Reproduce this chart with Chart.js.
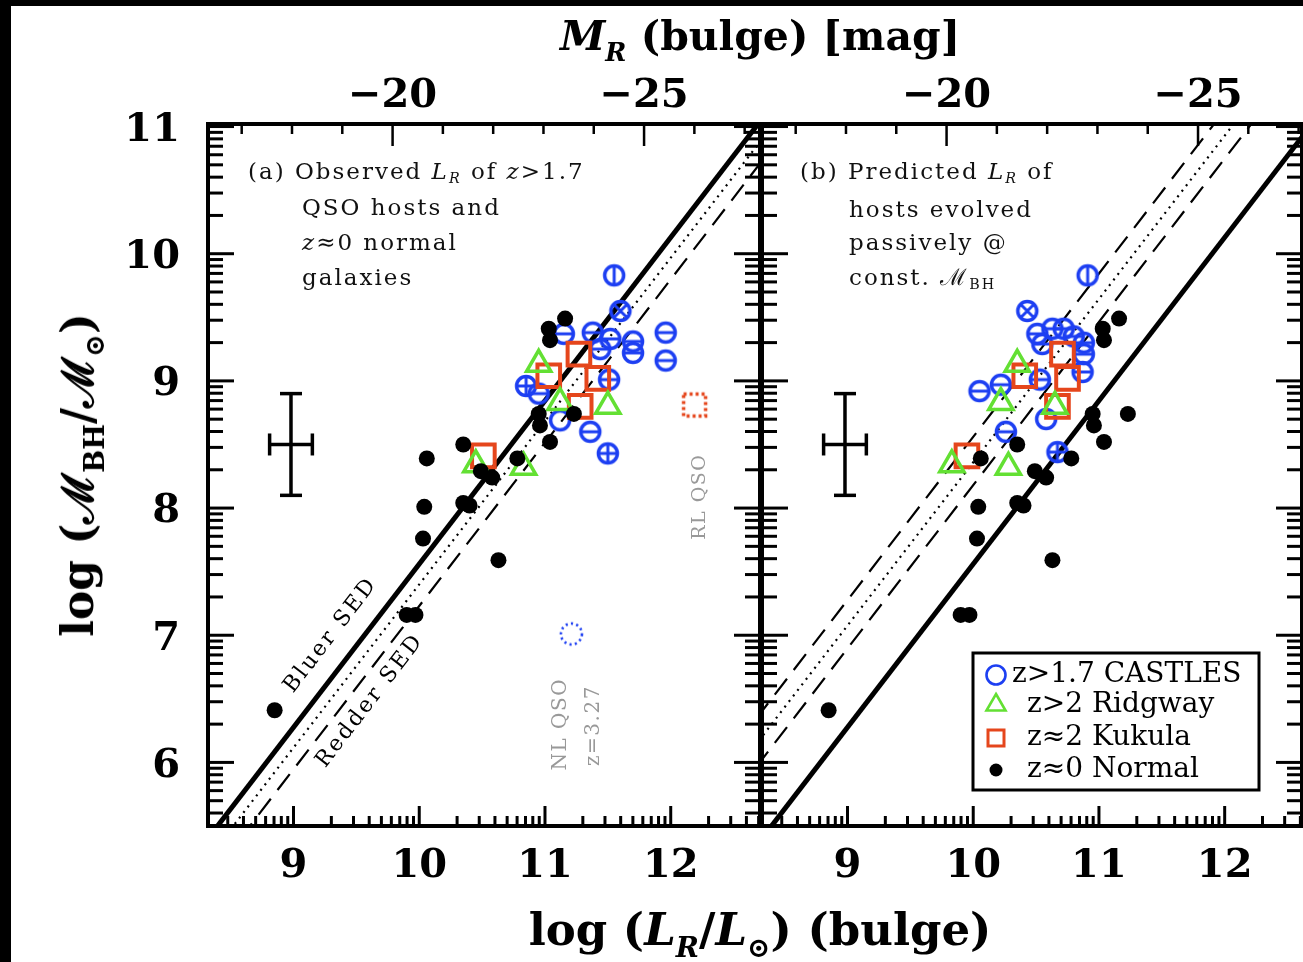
<!DOCTYPE html>
<html>
<head>
<meta charset="utf-8">
<title>Black hole mass vs bulge luminosity</title>
<script src="https://cdn.jsdelivr.net/npm/chart.js@4.4.1/dist/chart.umd.min.js"></script>
<style>
  html, body { margin: 0; padding: 0; width: 1303px; height: 962px; overflow: hidden; background: #000; }
  #sheet { position: absolute; left: 11px; top: 6px; width: 1292px; height: 956px; background: #fff; }
  canvas { position: absolute; top: 0; }
  #panelA { left: 0; }
  #panelB { left: 742px; }
  .txt { position: absolute; font-family: "DejaVu Serif", serif; white-space: nowrap; color: #000; line-height: 1; }
  .title { font-size: 41px; font-weight: bold; transform: translate(-50%, -50%); }
  .note { font-size: 23px; line-height: 23px; letter-spacing: 2px; color: #111; }
  .sb { font-size: 0.62em; position: relative; top: 0.42em; }
  .note .sb { top: 0.3em; }
</style>
</head>
<body>
<div id="sheet"></div>
<canvas id="panelA" width="780" height="962"></canvas>
<canvas id="panelB" width="580" height="962"></canvas>

<div class="txt title" style="left:760px;top:36px"><i>M</i><span class="sb"><i>R</i></span> (bulge) [mag]</div>
<div class="txt title" style="left:760px;top:929px;font-size:45px">log (<i>L</i><span class="sb"><i>R</i></span>/<i>L</i><span class="sb">&#8857;</span>) (bulge)</div>
<div class="txt title" style="left:78px;top:475px;font-size:44px;transform:translate(-50%,-50%) rotate(-90deg)">log (&#8499;<span class="sb">BH</span>/&#8499;<span class="sb">&#8857;</span>)</div>

<div class="txt note" style="left:248px;top:160px">(a) Observed <i>L</i><span class="sb"><i>R</i></span> of <i>z</i>&gt;1.7</div>
<div class="txt note" style="left:302px;top:196px">QSO hosts and</div>
<div class="txt note" style="left:302px;top:231px"><i>z</i>&#8776;0 normal</div>
<div class="txt note" style="left:302px;top:266px">galaxies</div>

<div class="txt note" style="left:800px;top:160px">(b) Predicted <i>L</i><span class="sb"><i>R</i></span> of</div>
<div class="txt note" style="left:849px;top:198px">hosts evolved</div>
<div class="txt note" style="left:849px;top:231px">passively @</div>
<div class="txt note" style="left:849px;top:266px">const. &#8499;<span class="sb">BH</span></div>

<script>
// axis ranges (log L_R and log M_BH), plus solar R magnitude for the top axis
const xMin = 8.32, xMaxA = 12.71, xMaxB = 12.615, yMin = 5.5, yMax = 11.02;
const sunMagR = 4.47;

// local relation and the shifted copies drawn in each panel
const relSlope = 1.284, relZero = -5.28;
const shiftA = [0, -0.16, -0.33];
const styleA = ['solid', 'dotted', 'dashed'];
const shiftB = [0, 1.0, 0.8, 0.62];
const styleB = ['solid', 'dashed', 'dotted', 'dashed'];

// z~0 normal galaxies (same in both panels)
const normX = [8.85, 9.90, 9.97, 10.03, 10.04, 10.06, 10.35, 10.35, 10.40, 10.49, 10.58, 10.63, 10.78, 10.95, 10.96, 11.04, 11.23, 11.03, 11.04, 11.16];
const normY = [6.41, 7.16, 7.16, 7.76, 8.01, 8.39, 8.50, 8.04, 8.02, 8.29, 8.24, 7.59, 8.39, 8.74, 8.65, 8.52, 8.74, 9.41, 9.32, 9.49];

// CASTLES hosts: observed (a) and passively evolved (b); kind = inner mark
const castAx = [11.55, 11.60, 11.15, 11.38, 11.52, 11.70, 11.70, 11.96, 11.96, 11.44, 10.85, 10.95, 11.51, 11.12, 11.36, 11.50];
const castAy = [9.83, 9.55, 9.37, 9.38, 9.33, 9.31, 9.22, 9.38, 9.16, 9.25, 8.96, 8.90, 9.01, 8.69, 8.60, 8.43];
const castAkind = ['v', 'x', 'h', 'h', 'h', 'h', 'h', 'h', 'h', 'h', 'p', 'h', 'h', 'o', 'h', 'p'];
const castBx = [10.91, 10.43, 10.51, 10.63, 10.72, 10.80, 10.88, 10.88, 10.55, 10.87, 10.05, 10.22, 10.53, 10.58, 10.26, 10.67];
const castBy = [9.83, 9.55, 9.37, 9.41, 9.41, 9.35, 9.30, 9.21, 9.29, 9.07, 8.92, 8.97, 9.01, 8.70, 8.60, 8.44];
const castBkind = ['v', 'x', 'h', 'h', 'h', 'h', 'h', 'h', 'h', 'h', 'h', 'h', 'h', 'o', 'h', 'p'];

// Ridgway z>2 hosts
const ridgAx = [10.95, 11.12, 11.50, 10.45, 10.83];
const ridgBx = [10.35, 10.22, 10.65, 9.83, 10.28];
const ridgY = [9.13, 8.83, 8.80, 8.34, 8.32];

// Kukula z~2 hosts
const kukAx = [11.27, 11.03, 11.42, 11.28, 10.51];
const kukBx = [10.71, 10.41, 10.75, 10.67, 9.95];
const kukY = [9.21, 9.04, 9.02, 8.80, 8.41];

// single objects shown in panel (a) only
const nlQsoX = [11.21], nlQsoY = [7.01];
const rlQsoX = [12.19], rlQsoY = [8.81];

// typical error bar
const errX = [8.98], errY = [8.50], errDx = 0.17, errDy = 0.40;

const BLUE = '#1d3ff2', GREEN = '#63e033', RED = '#e5461c';
const tickFont = { family: 'DejaVu Serif', size: 40, weight: 'bold' };

const pts = (xs, ys) => xs.map((x, i) => ({ x, y: ys[i] }));

function ringMark(kind, r, lw, color, dash) {
  const s = Math.ceil(2 * r + lw + 3);
  const c = document.createElement('canvas');
  c.width = c.height = s;
  const g = c.getContext('2d');
  const m = s / 2;
  g.strokeStyle = color;
  g.lineWidth = lw;
  if (dash) g.setLineDash(dash);
  g.beginPath(); g.arc(m, m, r, 0, 2 * Math.PI); g.stroke();
  g.setLineDash([]);
  g.lineWidth = lw * 0.85;
  const bar = (x1, y1, x2, y2) => { g.beginPath(); g.moveTo(x1, y1); g.lineTo(x2, y2); g.stroke(); };
  const d = r * 0.7071;
  if (kind === 'h' || kind === 'p') bar(m - r, m, m + r, m);
  if (kind === 'v' || kind === 'p') bar(m, m - r, m, m + r);
  if (kind === 'x') { bar(m - d, m - d, m + d, m + d); bar(m - d, m + d, m + d, m - d); }
  return c;
}

function dottedBox(half, lw, color) {
  const s = Math.ceil(2 * half + lw + 3);
  const c = document.createElement('canvas');
  c.width = c.height = s;
  const g = c.getContext('2d');
  g.strokeStyle = color;
  g.lineWidth = lw;
  g.setLineDash([3, 3]);
  g.strokeRect(s / 2 - half, s / 2 - half, 2 * half, 2 * half);
  return c;
}

const ringCache = {};
const ring = k => ringCache[k] || (ringCache[k] = ringMark(k, 9.5, 3.5, BLUE));

function relLine(shift, style) {
  const xs = [xMin - 0.5, xMaxA + 0.5];
  return {
    type: 'line',
    data: xs.map(x => ({ x, y: relSlope * x + relZero + shift })),
    borderColor: '#000',
    borderWidth: style === 'solid' ? 5 : 2.2,
    borderDash: style === 'dotted' ? [2, 5] : style === 'dashed' ? [20, 11] : [],
    pointRadius: 0,
    fill: false,
    clip: 0,
    order: 10
  };
}

function logTicks(lo, hi) {
  const out = [];
  for (let n = Math.floor(lo); n <= Math.ceil(hi); n++) {
    for (let k = 1; k <= 9; k++) {
      const v = n + Math.log10(k);
      if (v > lo && v < hi) out.push({ v, major: k === 1 });
    }
  }
  return out;
}

const decoPlugin = {
  id: 'deco',
  afterDatasetsDraw(chart) {
    const { ctx, chartArea: a, scales } = chart;
    const xs = scales.x, ys = scales.y, ms = scales.x2;
    ctx.save();
    ctx.strokeStyle = '#000';
    ctx.lineCap = 'butt';
    const seg = (x1, y1, x2, y2, w) => { ctx.lineWidth = w; ctx.beginPath(); ctx.moveTo(x1, y1); ctx.lineTo(x2, y2); ctx.stroke(); };
    logTicks(xs.min, xs.max).forEach(t => {
      const p = xs.getPixelForValue(t.v);
      seg(p, a.bottom, p, a.bottom - (t.major ? 20 : 10), 3);
    });
    logTicks(ys.min, ys.max).forEach(t => {
      const p = ys.getPixelForValue(t.v);
      const L = t.major ? 26 : 15;
      seg(a.left, p, a.left + L, p, 3);
      seg(a.right, p, a.right - L, p, 3);
    });
    for (let m = Math.ceil(ms.min); m <= Math.floor(ms.max); m++) {
      const p = ms.getPixelForValue(m);
      seg(p, a.top, p, a.top + (m % 5 === 0 ? 22 : 10), 2.5);
    }
    ctx.lineWidth = 4;
    ctx.strokeRect(a.left, a.top, a.right - a.left, a.bottom - a.top);
    ctx.restore();
  },
  afterDraw(chart, args, opts) {
    const { ctx, chartArea: a, scales } = chart;
    const xs = scales.x, ys = scales.y;
    ctx.save();
    ctx.strokeStyle = '#000';
    const seg = (x1, y1, x2, y2, w) => { ctx.lineWidth = w; ctx.beginPath(); ctx.moveTo(x1, y1); ctx.lineTo(x2, y2); ctx.stroke(); };

    // error bar
    const cx = xs.getPixelForValue(errX[0]), cy = ys.getPixelForValue(errY[0]);
    const ex1 = xs.getPixelForValue(errX[0] - errDx), ex2 = xs.getPixelForValue(errX[0] + errDx);
    const ey1 = ys.getPixelForValue(errY[0] + errDy), ey2 = ys.getPixelForValue(errY[0] - errDy);
    seg(ex1, cy, ex2, cy, 3.5);
    seg(cx, ey1, cx, ey2, 3.5);
    seg(ex1, cy - 11, ex1, cy + 11, 3.5);
    seg(ex2, cy - 11, ex2, cy + 11, 3.5);
    seg(cx - 11, ey1, cx + 11, ey1, 3.5);
    seg(cx - 11, ey2, cx + 11, ey2, 3.5);

    // rotated labels
    const p0x = xs.getPixelForValue(9), p0y = ys.getPixelForValue(relSlope * 9 + relZero);
    const p1x = xs.getPixelForValue(10), p1y = ys.getPixelForValue(relSlope * 10 + relZero);
    const lineAngle = Math.atan2(p1y - p0y, p1x - p0x);
    (opts.labels || []).forEach(l => {
      ctx.save();
      ctx.translate(xs.getPixelForValue(l.x), ys.getPixelForValue(l.y));
      ctx.rotate(l.along ? lineAngle : -Math.PI / 2);
      ctx.font = l.size + 'px "DejaVu Serif"';
      ctx.letterSpacing = l.spacing + 'px';
      ctx.fillStyle = l.color;
      ctx.textAlign = 'center';
      ctx.textBaseline = 'middle';
      ctx.fillText(l.text, 0, 0);
      ctx.restore();
    });

    // legend box
    if (opts.legend) {
      const bx = a.left + 211, by = a.top + 529, bw = 286, bh = 137;
      ctx.fillStyle = '#fff';
      ctx.fillRect(bx, by, bw, bh);
      ctx.lineWidth = 3;
      ctx.strokeRect(bx, by, bw, bh);
      const mx = bx + 23;
      const rows = [by + 22, by + 52, by + 85, by + 117];
      ctx.lineWidth = 2.6;
      ctx.strokeStyle = BLUE;
      ctx.beginPath(); ctx.arc(mx, rows[0], 9.5, 0, 2 * Math.PI); ctx.stroke();
      ctx.strokeStyle = GREEN;
      const tr = 11;
      ctx.beginPath();
      ctx.moveTo(mx, rows[1] - tr);
      ctx.lineTo(mx + tr * 0.866, rows[1] + tr * 0.5);
      ctx.lineTo(mx - tr * 0.866, rows[1] + tr * 0.5);
      ctx.closePath(); ctx.stroke();
      ctx.strokeStyle = RED;
      ctx.lineWidth = 3;
      ctx.strokeRect(mx - 8, rows[2] - 8, 16, 16);
      ctx.fillStyle = '#000';
      ctx.beginPath(); ctx.arc(mx, rows[3], 6.5, 0, 2 * Math.PI); ctx.fill();
      ctx.font = '28px "DejaVu Serif"';
      ctx.textBaseline = 'middle';
      ctx.textAlign = 'left';
      const names = ['z>1.7 CASTLES', 'z>2 Ridgway', 'z\u22482 Kukula', 'z\u22480 Normal'];
      names.forEach((t, i) => ctx.fillText(t, i === 0 ? bx + 39 : bx + 54, rows[i]));
    }
    ctx.restore();
  }
};

function panelScales(showY, xHi) {
  const common = { grid: { display: false, drawTicks: false }, border: { display: false } };
  return {
    x: {
      ...common, type: 'linear', position: 'bottom', min: xMin, max: xHi,
      ticks: { stepSize: 1, includeBounds: false, padding: 17, color: '#000', font: tickFont, maxRotation: 0 },
      afterFit: s => { s.height = 136; }
    },
    x2: {
      ...common, type: 'linear', position: 'top', reverse: true,
      min: sunMagR - 2.5 * xHi, max: sunMagR - 2.5 * xMin,
      ticks: { stepSize: 5, includeBounds: false, padding: 3, color: '#000', font: tickFont, maxRotation: 0,
               callback: v => '\u2212' + Math.abs(v) },
      afterFit: s => { s.height = 124; }
    },
    y: {
      ...common, type: 'linear', position: 'left', min: yMin, max: yMax,
      ticks: { display: showY, stepSize: 1, includeBounds: false, padding: 28, labelOffset: 4, color: '#000', font: tickFont },
      afterFit: s => { s.width = showY ? 208 : 10; }
    }
  };
}

function markerSets(cx, cy, ckind, rx, kx) {
  return [
    { data: pts(normX, normY), pointStyle: 'circle', pointRadius: 8,
      pointBackgroundColor: '#000', pointBorderColor: '#000', pointBorderWidth: 0, order: 1 },
    { data: pts(rx, ridgY), pointStyle: 'triangle', pointRadius: 14,
      pointBackgroundColor: 'rgba(0,0,0,0)', pointBorderColor: GREEN, pointBorderWidth: 3.5, order: 2 },
    { data: pts(kx, kukY), pointStyle: 'rect', pointRadius: 16,
      pointBackgroundColor: 'rgba(0,0,0,0)', pointBorderColor: RED, pointBorderWidth: 4, order: 3 },
    { data: pts(cx, cy), pointStyle: ckind.map(ring), pointRadius: 10, order: 4 }
  ];
}

function makePanel(id, datasets, showY, xHi, padRight, deco) {
  return new Chart(document.getElementById(id), {
    type: 'scatter',
    data: { datasets },
    options: {
      responsive: false,
      animation: false,
      devicePixelRatio: 1,
      events: [],
      layout: { padding: { left: 0, right: padRight, top: 0, bottom: 0 } },
      scales: panelScales(showY, xHi),
      plugins: { legend: { display: false }, tooltip: { enabled: false }, deco }
    },
    plugins: [decoPlugin]
  });
}

const datasetsA = [
  ...markerSets(castAx, castAy, castAkind, ridgAx, kukAx),
  { data: pts(nlQsoX, nlQsoY), pointStyle: ringMark('o', 10.5, 2.6, BLUE, [2.2, 3.2]), pointRadius: 10, order: 4 },
  { data: pts(rlQsoX, rlQsoY), pointStyle: dottedBox(11, 3.5, RED), pointRadius: 10, order: 4 },
  ...shiftA.map((s, i) => relLine(s, styleA[i]))
];

const datasetsB = [
  ...markerSets(castBx, castBy, castBkind, ridgBx, kukBx),
  ...shiftB.map((s, i) => relLine(s, styleB[i]))
];

makePanel('panelA', datasetsA, true, xMaxA, 12, {
  labels: [
    { text: 'Bluer SED', x: 9.297, y: 7.0, along: true, size: 22, spacing: 2.5, color: '#000' },
    { text: 'Redder SED', x: 9.609, y: 6.485, along: true, size: 22, spacing: 2.5, color: '#000' },
    { text: 'RL QSO', x: 12.237, y: 8.09, size: 19, spacing: 1.5, color: '#999' },
    { text: 'NL QSO', x: 11.122, y: 6.30, size: 20, spacing: 1.5, color: '#999' },
    { text: 'z=3.27', x: 11.392, y: 6.29, size: 20, spacing: 1.5, color: '#999' }
  ]
});

makePanel('panelB', datasetsB, false, xMaxB, 14, { legend: true, labels: [] });
</script>
</body>
</html>
